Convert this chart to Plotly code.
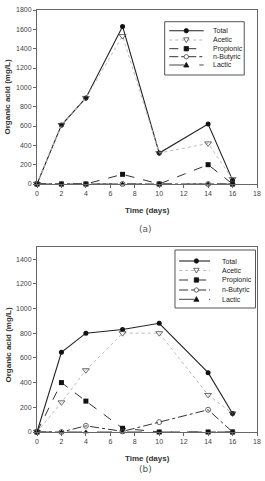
import plotly.graph_objects as go

days = [0, 2, 4, 7, 10, 14, 16]
series_names = ["Total", "Acetic", "Propionic", "n-Butyric", "Lactic"]

a_total = [0, 610, 890, 1630, 320, 620, 40]
a_acetic = [0, 610, 890, 1530, 320, 420, 50]
a_propionic = [0, 0, 0, 100, 0, 200, 0]
a_butyric = [0, 0, 0, 0, 0, 0, 0]
a_lactic = [0, 0, 0, 0, 0, 0, 0]

b_total = [0, 645, 800, 830, 880, 480, 150]
b_acetic = [0, 240, 500, 800, 800, 300, 150]
b_propionic = [0, 400, 250, 30, 0, 0, 0]
b_butyric = [0, 0, 50, 5, 80, 180, 0]
b_lactic = [0, 0, 0, 0, 0, 0, 0]

x_ticks = [0, 2, 4, 6, 8, 10, 12, 14, 16, 18]
a_yticks = [0, 200, 400, 600, 800, 1000, 1200, 1400, 1600, 1800]
b_yticks = [0, 200, 400, 600, 800, 1000, 1200, 1400]

W, H = 265, 481
ML, MR, MT, MB = 37, 4, 10, 49
PW, PH = W - ML - MR, H - MT - MB


def px2x(px):
    return (px - ML) / PW


def px2y(py):
    return (H - MB - py) / PH


line_styles = [
    dict(color="#222", width=1.1, dash="solid"),
    dict(color="#bbb", width=1, dash="dot"),
    dict(color="#333", width=1, dash="dash"),
    dict(color="#333", width=1, dash="dashdot"),
    dict(color="#444", width=1, dash="longdash"),
]
marker_styles = [
    dict(symbol="circle", size=5, color="#111"),
    dict(symbol="triangle-down-open", size=6, color="#444", line=dict(width=0.8)),
    dict(symbol="square", size=5, color="#111"),
    dict(symbol="circle-open", size=5, color="#444", line=dict(width=0.8)),
    dict(symbol="triangle-up", size=5, color="#111"),
]

fig = go.Figure()
a_data = [a_total, a_acetic, a_propionic, a_butyric, a_lactic]
b_data = [b_total, b_acetic, b_propionic, b_butyric, b_lactic]
for name, ys, ls, ms in zip(series_names, a_data, line_styles, marker_styles):
    fig.add_trace(go.Scatter(x=days, y=ys, name=name, mode="lines+markers", xaxis="x", yaxis="y",
                             showlegend=False, cliponaxis=False, line=ls, marker=ms))
for name, ys, ls, ms in zip(series_names, b_data, line_styles, marker_styles):
    fig.add_trace(go.Scatter(x=days, y=ys, name=name, mode="lines+markers", xaxis="x2", yaxis="y2",
                             showlegend=False, cliponaxis=False, line=ls, marker=ms))

tickfont = dict(family="Liberation Sans, Arial", size=7, color="#444")
axis_common = dict(showline=True, linecolor="#666", linewidth=1, mirror=True, ticks="outside",
                   ticklen=3, tickcolor="#666", showgrid=False, zeroline=False, tickfont=tickfont)

fig.update_layout(
    width=W, height=H,
    margin=dict(l=ML, r=MR, t=MT, b=MB),
    paper_bgcolor="white", plot_bgcolor="white",
    showlegend=False,
    xaxis=dict(domain=[0, 1], range=[0, 18], tickvals=x_ticks, anchor="y", **axis_common),
    yaxis=dict(domain=[px2y(184), 1.0], range=[0, 1800], tickvals=a_yticks, anchor="x", **axis_common),
    xaxis2=dict(domain=[0, 1], range=[0, 18], tickvals=x_ticks, anchor="y2", **axis_common),
    yaxis2=dict(domain=[0, px2y(246.7)], range=[0, 1500], tickvals=b_yticks, anchor="x2", **axis_common),
)

# custom compact legends (drawn as shapes + text in paper space)
shapes = []
annotations = []
leg_font = dict(family="Liberation Sans, Arial", size=7, color="#222")


def draw_legend(box, rows, line_x0, line_x1, mk_x, text_x):
    x0, y0, x1, y1 = box
    shapes.append(dict(type="rect", xref="paper", yref="paper", x0=px2x(x0), x1=px2x(x1),
                       y0=px2y(y1), y1=px2y(y0), line=dict(color="#555", width=1), fillcolor="white", layer="above"))
    for i, (name, ry) in enumerate(zip(series_names, rows)):
        ls = line_styles[i]
        shapes.append(dict(type="line", xref="paper", yref="paper", x0=px2x(line_x0), x1=px2x(line_x1),
                           y0=px2y(ry), y1=px2y(ry), line=dict(color=ls["color"], width=ls["width"], dash=ls["dash"]),
                           layer="above"))
        r = 2.2
        common = dict(xref="paper", yref="paper", layer="above")
        if i == 0:
            shapes.append(dict(type="circle", x0=px2x(mk_x - r), x1=px2x(mk_x + r), y0=px2y(ry + r), y1=px2y(ry - r),
                               line=dict(color="#111", width=0.8), fillcolor="#111", **common))
        elif i == 1:
            path = "M {} {} L {} {} L {} {} Z".format(px2x(mk_x - 2.8), px2y(ry - 2.2), px2x(mk_x + 2.8), px2y(ry - 2.2),
                                                    px2x(mk_x), px2y(ry + 2.6))
            shapes.append(dict(type="path", path=path, line=dict(color="#444", width=0.8), fillcolor="white", **common))
        elif i == 2:
            shapes.append(dict(type="rect", x0=px2x(mk_x - r), x1=px2x(mk_x + r), y0=px2y(ry + r), y1=px2y(ry - r),
                               line=dict(color="#111", width=0.8), fillcolor="#111", **common))
        elif i == 3:
            shapes.append(dict(type="circle", x0=px2x(mk_x - r), x1=px2x(mk_x + r), y0=px2y(ry + r), y1=px2y(ry - r),
                               line=dict(color="#444", width=0.8), fillcolor="white", **common))
        else:
            path = "M {} {} L {} {} L {} {} Z".format(px2x(mk_x - 2.6), px2y(ry + 2.0), px2x(mk_x + 2.6), px2y(ry + 2.0),
                                                    px2x(mk_x), px2y(ry - 2.6))
            shapes.append(dict(type="path", path=path, line=dict(color="#111", width=0.8), fillcolor="#111", **common))
        annotations.append(dict(text=name, x=px2x(text_x), y=px2y(ry), xref="paper", yref="paper",
                                xanchor="left", yanchor="middle", showarrow=False, font=leg_font))


draw_legend((167, 21.7, 248, 75), [30.7, 40, 48.7, 56.7, 65], 171.7, 206.7, 189, 214)
draw_legend((177.5, 250, 259.5, 308), [261, 270.5, 280, 290, 299.3], 181.7, 213.3, 199.3, 223)

title_font = dict(family="Liberation Sans, Arial", size=8, color="#333")
annotations += [
    dict(text="<b>Time (days)</b>", x=px2x(149), y=px2y(210), xref="paper", yref="paper", showarrow=False,
         xanchor="center", yanchor="middle", font=title_font),
    dict(text="(a)", x=px2x(147), y=px2y(229), xref="paper", yref="paper", showarrow=False,
         xanchor="center", yanchor="middle", font=dict(family="DejaVu Sans", size=9, color="#555")),
    dict(text="<b>Organic acid (mg/L)</b>", x=px2x(7), y=px2y(97), xref="paper", yref="paper", showarrow=False,
         textangle=-90, xanchor="center", yanchor="middle", font=title_font),
    dict(text="<b>Time (days)</b>", x=px2x(149), y=px2y(458), xref="paper", yref="paper", showarrow=False,
         xanchor="center", yanchor="middle", font=title_font),
    dict(text="(b)", x=px2x(147), y=px2y(469), xref="paper", yref="paper", showarrow=False,
         xanchor="center", yanchor="middle", font=dict(family="DejaVu Sans", size=9, color="#555")),
    dict(text="<b>Organic acid (mg/L)</b>", x=px2x(7), y=px2y(345), xref="paper", yref="paper", showarrow=False,
         textangle=-90, xanchor="center", yanchor="middle", font=title_font),
]
fig.update_layout(shapes=shapes, annotations=annotations)

fig.write_html("out.html")
